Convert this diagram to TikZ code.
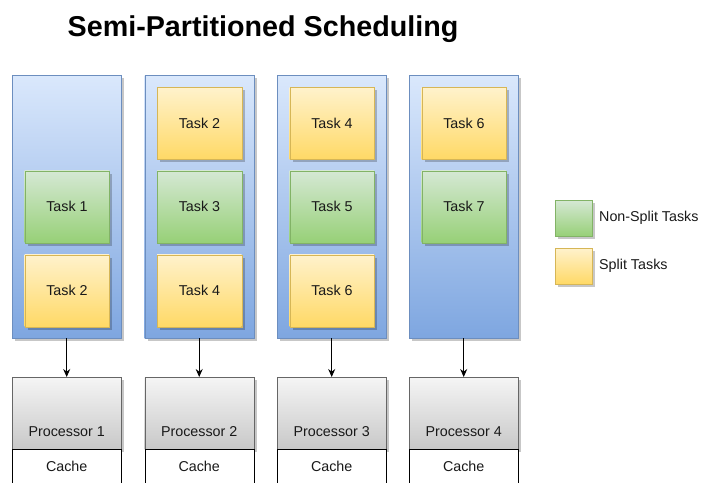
\documentclass[tikz,border=0pt]{standalone}
\usepackage{fontspec}
\setmainfont{Liberation Sans}
\usetikzlibrary{shadows,arrows.meta}

\definecolor{coreTop}{HTML}{DAE8FC}
\definecolor{coreBot}{HTML}{7EA6E0}
\definecolor{coreLine}{HTML}{6C8EBF}
\definecolor{greenTop}{HTML}{D5E8D4}
\definecolor{greenBot}{HTML}{97D077}
\definecolor{greenLine}{HTML}{82B366}
\definecolor{yellowTop}{HTML}{FFF2CC}
\definecolor{yellowBot}{HTML}{FFD966}
\definecolor{yellowLine}{HTML}{D6B656}
\definecolor{procTop}{HTML}{F5F5F5}
\definecolor{procBot}{HTML}{C8C8C8}
\definecolor{procLine}{HTML}{666666}

\tikzset{
  boxshadow/.style={general shadow={fill=black,opacity=0.22,shadow xshift=3pt,shadow yshift=-3pt}},
  lbl/.style={font=\fontsize{14.3}{17}\selectfont, text=black!90},
  core/.style={draw=coreLine, top color=coreTop, bottom color=coreBot, boxshadow,
    minimum width=109pt, minimum height=263pt, anchor=north west, inner sep=0pt},
  task/.style={lbl, boxshadow, minimum width=84.5pt, minimum height=72pt,
    anchor=north west, inner sep=0pt},
  nonsplit/.style={task, draw=greenLine, top color=greenTop, bottom color=greenBot},
  split/.style={task, draw=yellowLine, top color=yellowTop, bottom color=yellowBot},
  proc/.style={lbl, draw=procLine, top color=procTop, bottom color=procBot, boxshadow,
    minimum width=109pt, anchor=north west, inner sep=0pt,
    text height=59.5pt, text depth=12.5pt},
  cache/.style={lbl, draw=black, fill=white, minimum width=109pt, anchor=north west,
    inner sep=0pt, text height=22pt, text depth=16pt},
  feed/.style={draw=black, line width=0.9pt, -{Stealth[length=8pt,width=7pt]}},
  legbox/.style={boxshadow, minimum width=37pt, minimum height=36pt, anchor=north west, inner sep=0pt},
  legtext/.style={lbl, anchor=west, inner sep=0pt},
}

\begin{document}
\begin{tikzpicture}[x=1pt, y=-1pt]
  \useasboundingbox (0,0) rectangle (703,482);
  \clip (0,0) rectangle (703,482);

  % heading
  \node[anchor=base, font=\bfseries\fontsize{28.7}{32}\selectfont] (title) at (263,36) {Semi-Partitioned Scheduling};

  % per-processor task queues
  \node[core] (c1) at (12,75) {};
  \node[core] (c2) at (144.5,75) {};
  \node[core] (c3) at (277,75) {};
  \node[core] (c4) at (409,75) {};

  % queue 1
  \node[nonsplit] (t1a) at (24.5,170.5) {Task 1};
  \node[split]    (t1b) at (24.5,254.5) {Task 2};
  % queue 2
  \node[split]    (t2a) at (157,87) {Task 2};
  \node[nonsplit] (t2b) at (157,170.5) {Task 3};
  \node[split]    (t2c) at (157,254.5) {Task 4};
  % queue 3
  \node[split]    (t3a) at (289.5,87) {Task 4};
  \node[nonsplit] (t3b) at (289.5,170.5) {Task 5};
  \node[split]    (t3c) at (289.5,254.5) {Task 6};
  % queue 4
  \node[split]    (t4a) at (421.5,87) {Task 6};
  \node[nonsplit] (t4b) at (421.5,170.5) {Task 7};

  % processors with their caches
  \node[proc]  (p1) at (12,377) {Processor 1};
  \node[proc]  (p2) at (144.5,377) {Processor 2};
  \node[proc]  (p3) at (277,377) {Processor 3};
  \node[proc]  (p4) at (409,377) {Processor 4};
  \node[cache] (k1) at (12,449) {Cache};
  \node[cache] (k2) at (144.5,449) {Cache};
  \node[cache] (k3) at (277,449) {Cache};
  \node[cache] (k4) at (409,449) {Cache};

  % queue -> processor
  \draw[feed] (c1.south) -- (p1.north);
  \draw[feed] (c2.south) -- (p2.north);
  \draw[feed] (c3.south) -- (p3.north);
  \draw[feed] (c4.south) -- (p4.north);

  % legend
  \node[legbox, draw=greenLine, top color=greenTop, bottom color=greenBot] (lg) at (555,200) {};
  \node[legbox, draw=yellowLine, top color=yellowTop, bottom color=yellowBot] (ly) at (555,248) {};
  \node[legtext] (lgt) at (599,218) {Non-Split Tasks};
  \node[legtext] (lyt) at (599,266) {Split Tasks};
\end{tikzpicture}
\end{document}
